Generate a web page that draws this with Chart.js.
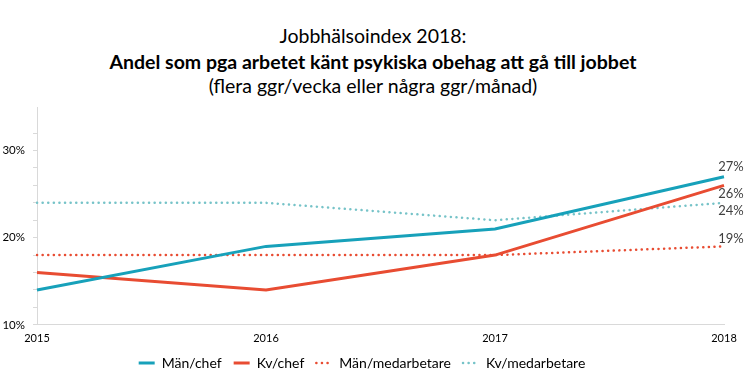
<!DOCTYPE html>
<html>
<head>
<meta charset="utf-8">
<script src="https://cdn.jsdelivr.net/npm/chart.js@4.4.0/dist/chart.umd.min.js"></script>
<style>
  html, body { margin: 0; padding: 0; background: #fff; }
  #wrap { position: relative; width: 746px; height: 392px; font-family: Lato, "Open Sans", sans-serif; color: #000; }
  .t { position: absolute; left: 0; width: 746px; text-align: center; white-space: nowrap; font-size: 19.5px; }
  #t1 { top: 24px; }
  #t2 { top: 50px; font-weight: bold; }
  #t3 { top: 74px; }
  canvas { position: absolute; left: 0; top: 0; }
</style>
</head>
<body>
<div id="wrap">
  <div class="t" id="t1">Jobbhälsoindex 2018:</div>
  <div class="t" id="t2">Andel som pga arbetet känt psykiska obehag att gå till jobbet</div>
  <div class="t" id="t3">(flera ggr/vecka eller några ggr/månad)</div>
  <canvas id="chart" width="746" height="392"></canvas>
</div>
<script>
const years = ['2015', '2016', '2017', '2018'];
const manChef = [14, 19, 21, 27];
const kvChef = [16, 14, 18, 26];
const manMedarbetare = [18, 18, 18, 19];
const kvMedarbetare = [24, 24, 22, 24];

const teal = 'rgb(23,161,186)';
const red = 'rgb(232,76,50)';
const tealLight = 'rgb(118,195,200)';

// etikett vid sista punkten, förskjutning i y
const endLabelOffset = [-10, 8, -8, 8];

const endLabels = {
  id: 'endLabels',
  afterDatasetsDraw(chart) {
    const ctx = chart.ctx;
    ctx.save();
    ctx.font = '13px Lato, "Open Sans", sans-serif';
    ctx.fillStyle = '#404040';
    ctx.textAlign = 'center';
    ctx.textBaseline = 'middle';
    chart.data.datasets.forEach((ds, i) => {
      const meta = chart.getDatasetMeta(i);
      const last = meta.data[meta.data.length - 1];
      ctx.fillText(ds.data[ds.data.length - 1] + '%', last.x + 7, last.y + endLabelOffset[i]);
    });
    ctx.restore();
  }
};

new Chart(document.getElementById('chart').getContext('2d'), {
  type: 'line',
  data: {
    labels: years,
    datasets: [
      { label: 'Män/chef', data: manChef, borderColor: teal, backgroundColor: teal, borderWidth: 3 },
      { label: 'Kv/chef', data: kvChef, borderColor: red, backgroundColor: red, borderWidth: 3 },
      { label: 'Män/medarbetare', data: manMedarbetare, borderColor: red, backgroundColor: red,
        borderWidth: 2.5, borderDash: [0.1, 5.5], borderCapStyle: 'round' },
      { label: 'Kv/medarbetare', data: kvMedarbetare, borderColor: tealLight, backgroundColor: tealLight,
        borderWidth: 2.5, borderDash: [0.1, 5.5], borderCapStyle: 'round' }
    ]
  },
  options: {
    responsive: false,
    animation: false,
    elements: { point: { radius: 0 }, line: { tension: 0 } },
    layout: { padding: { top: 107, right: 22, bottom: 12, left: 0 } },
    scales: {
      x: {
        afterFit: s => { s.height = s.height - 8; },
        grid: { drawOnChartArea: false, drawTicks: false },
        border: { color: '#d9d9d9' },
        ticks: { color: '#000', padding: 7, font: { size: 11, family: 'Lato' } }
      },
      y: {
        min: 10,
        max: 35,
        afterFit: s => { s.width = 37; },
        afterBuildTicks: s => { s.ticks = s.ticks.filter(t => t.value <= 34); },
        grid: { drawOnChartArea: false, tickLength: 4, color: '#d9d9d9' },
        border: { color: '#d9d9d9' },
        ticks: {
          stepSize: 2,
          autoSkip: false,
          color: '#000',
          padding: 8,
          font: { size: 11.5, family: 'Lato' },
          callback: v => (v % 10 === 0 ? v + '%' : '')
        }
      }
    },
    plugins: {
      tooltip: { enabled: false },
      legend: {
        position: 'bottom',
        labels: {
          usePointStyle: true,
          pointStyle: 'line',
          pointStyleWidth: 16,
          boxHeight: 14,
          padding: 12,
          color: '#000',
          font: { size: 14, family: 'Lato' },
          generateLabels(chart) {
            return chart.data.datasets.map((ds, i) => ({
              text: ds.label,
              datasetIndex: i,
              strokeStyle: ds.borderColor,
              fillStyle: ds.borderColor,
              lineWidth: ds.borderWidth,
              lineDash: ds.borderDash || [],
              lineCap: ds.borderCapStyle || 'butt',
              pointStyle: 'line',
              fontColor: '#000'
            }));
          }
        }
      }
    }
  },
  plugins: [endLabels]
});
</script>
</body>
</html>
